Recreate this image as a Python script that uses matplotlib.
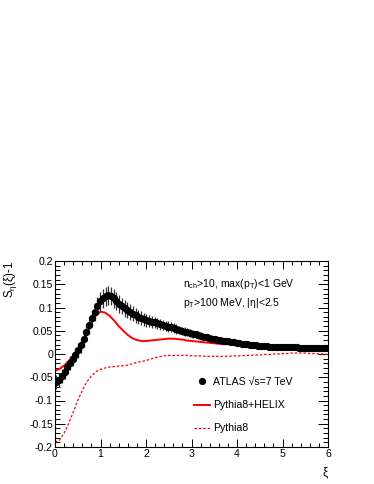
import numpy as np
import matplotlib
matplotlib.use("Agg")
import matplotlib.pyplot as plt
from matplotlib.ticker import MultipleLocator

plt.rcParams['font.family'] = ['Liberation Sans', 'DejaVu Sans']
plt.rcParams['mathtext.fontset'] = 'custom'
plt.rcParams['mathtext.rm'] = 'Liberation Sans'
plt.rcParams['mathtext.it'] = 'Liberation Sans:italic'
plt.rcParams['mathtext.default'] = 'regular'

# ATLAS data: bin centres of width 0.06
atlas_x = [round(0.03 + 0.06 * i, 2) for i in range(100)]
atlas_y = [-0.060, -0.056, -0.048, -0.039, -0.029, -0.020, -0.011, -0.002, 0.008, 0.019,
           0.032, 0.047, 0.062, 0.077, 0.091, 0.103, 0.113, 0.120, 0.124, 0.126,
           0.125, 0.120, 0.114, 0.108, 0.103, 0.098, 0.094, 0.090, 0.087, 0.083,
           0.080, 0.077, 0.075, 0.073, 0.071, 0.069, 0.068, 0.066, 0.064, 0.063,
           0.061, 0.059, 0.058, 0.056, 0.054, 0.052, 0.050, 0.048, 0.047, 0.045,
           0.043, 0.042, 0.040, 0.039, 0.037, 0.036, 0.034, 0.033, 0.032, 0.031,
           0.030, 0.029, 0.028, 0.027, 0.026, 0.025, 0.024, 0.023, 0.022, 0.022,
           0.021, 0.020, 0.020, 0.019, 0.018, 0.018, 0.017, 0.017, 0.016, 0.016,
           0.016, 0.015, 0.015, 0.015, 0.015, 0.014, 0.014, 0.014, 0.014, 0.013,
           0.013, 0.013, 0.013, 0.013, 0.012, 0.012, 0.012, 0.012, 0.012, 0.012]
atlas_err = [0.015, 0.015, 0.015, 0.015, 0.015, 0.015, 0.015, 0.015, 0.016, 0.016,
             0.017, 0.017, 0.018, 0.018, 0.019, 0.019, 0.020, 0.020, 0.020, 0.020,
             0.020, 0.020, 0.019, 0.019, 0.018, 0.018, 0.017, 0.017, 0.016, 0.016,
             0.015, 0.015, 0.014, 0.014, 0.013, 0.013, 0.012, 0.012, 0.012, 0.011,
             0.011, 0.011, 0.010, 0.010, 0.010, 0.009, 0.009, 0.009, 0.009, 0.008,
             0.008, 0.008, 0.008, 0.008, 0.007, 0.007, 0.007, 0.007, 0.007, 0.007,
             0.006, 0.006, 0.006, 0.006, 0.006, 0.006, 0.006, 0.006, 0.006, 0.006,
             0.006, 0.006, 0.006, 0.006, 0.006, 0.006, 0.006, 0.006, 0.006, 0.006,
             0.006, 0.006, 0.006, 0.006, 0.006, 0.006, 0.006, 0.006, 0.006, 0.006,
             0.006, 0.006, 0.006, 0.006, 0.006, 0.006, 0.006, 0.006, 0.006, 0.006]

# MC curves sampled every 0.1
mc_x = [round(0.1 * i, 1) for i in range(61)]
helix_y = [-0.036, -0.032, -0.025, -0.015, -0.003, 0.011, 0.028, 0.048, 0.068, 0.083,
           0.091, 0.089, 0.082, 0.072, 0.060, 0.050, 0.041, 0.034, 0.030, 0.028,
           0.028, 0.029, 0.030, 0.031, 0.032, 0.033, 0.033, 0.032, 0.031, 0.029,
           0.028, 0.027, 0.026, 0.025, 0.024, 0.023, 0.022, 0.021, 0.021, 0.020,
           0.019, 0.019, 0.018, 0.018, 0.017, 0.017, 0.016, 0.016, 0.016, 0.015,
           0.015, 0.015, 0.014, 0.014, 0.014, 0.014, 0.013, 0.013, 0.013, 0.012,
           0.012]
pythia_y = [-0.190, -0.185, -0.170, -0.150, -0.125, -0.100, -0.078, -0.060, -0.047, -0.038,
            -0.033, -0.030, -0.028, -0.027, -0.026, -0.025, -0.024, -0.021, -0.018, -0.016,
            -0.014, -0.011, -0.008, -0.006, -0.004, -0.003, -0.003, -0.003, -0.003, -0.003,
            -0.004, -0.004, -0.004, -0.005, -0.005, -0.005, -0.005, -0.005, -0.005, -0.004,
            -0.004, -0.004, -0.003, -0.003, -0.002, -0.002, -0.001, -0.001, 0.000, 0.000,
            0.001, 0.001, 0.002, 0.002, 0.002, 0.002, 0.001, 0.001, 0.000, 0.000,
            -0.001]

labels = ["ATLAS \u221as=7 TeV", "Pythia8+HELIX", "Pythia8"]

fig = plt.figure(figsize=(3.74, 4.84), dpi=100)
W, H = 374, 484
ax = fig.add_axes([55 / W, 1 - 447 / H, (328 - 55) / W, (447 - 261) / H])

eb = ax.errorbar(atlas_x, atlas_y, yerr=atlas_err, fmt='o', color='black',
                 ecolor='#333333', ms=4.2, elinewidth=0.9, capsize=0, zorder=3)
l_helix, = ax.plot(mc_x, helix_y, color='#ff0000', lw=1.4, zorder=2)
l_py, = ax.plot(mc_x, pythia_y, color='#ff0000', lw=0.9, ls=(0, (2, 1.5)), zorder=2)

ax.set_xlim(0, 6)
ax.set_ylim(-0.2, 0.2)
ax.xaxis.set_major_locator(MultipleLocator(1))
ax.xaxis.set_minor_locator(MultipleLocator(0.2))
ax.yaxis.set_minor_locator(MultipleLocator(0.01))
ax.set_yticks([-0.2, -0.15, -0.1, -0.05, 0, 0.05, 0.1, 0.15, 0.2])
ax.set_yticklabels(['-0.2', '-0.15', '-0.1', '-0.05', '0', '0.05', '0.1', '0.15', '0.2'])
ax.tick_params(which='both', direction='in', top=True, right=True, labelsize=7.6,
               width=0.7, color='black')
ax.tick_params(axis='x', which='major', length=6, pad=1.5)
ax.tick_params(axis='x', which='minor', length=3)
ax.tick_params(axis='y', which='major', length=7, pad=1.5)
ax.tick_params(axis='y', which='minor', length=3.5)
for s in ax.spines.values():
    s.set_linewidth(0.8)

ax.set_xlabel('\u03be', fontsize=8.5, loc='right', labelpad=5)
ax.set_ylabel('S$_{\\eta}$(\u03be)-1', fontsize=8.3, loc='top', labelpad=7)

fig.text(183 / W, 1 - 287 / H, 'n$_{ch}$>10, max(p$_{T}$)<1 GeV', fontsize=7.5,
         ha='left', va='baseline')
fig.text(183 / W, 1 - 306 / H, 'p$_{T}$>100 MeV, |\u03b7|<2.5', fontsize=7.5,
         ha='left', va='baseline')

fig.legend([eb[0], l_helix, l_py], labels, loc='upper left',
           bbox_to_anchor=(194 / W, 1 - 377 / H), frameon=False, fontsize=7.6,
           borderpad=0, labelspacing=1.25, handlelength=1.5, handletextpad=0.3,
           borderaxespad=0)

fig.savefig('out.png', dpi=100)
